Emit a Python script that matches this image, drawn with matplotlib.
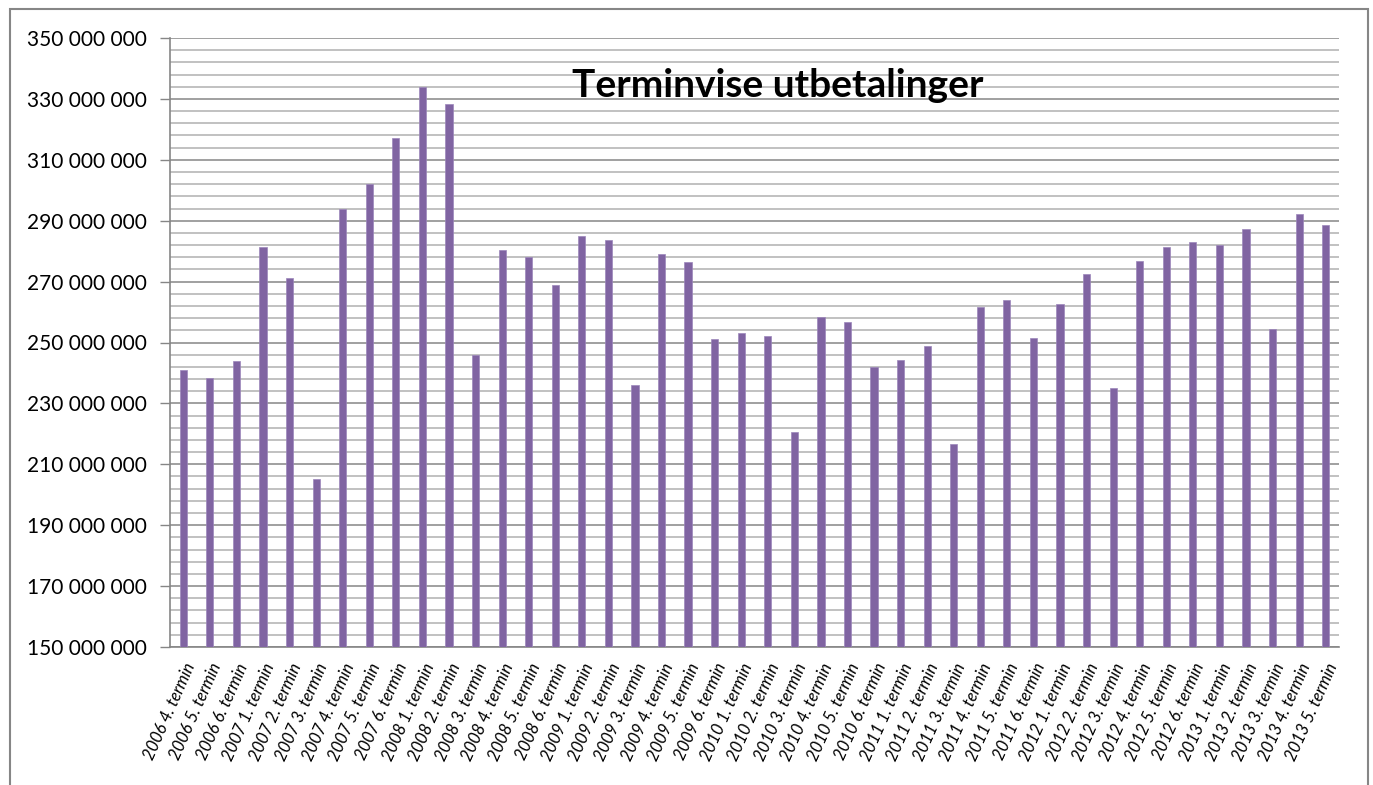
import matplotlib
matplotlib.use("Agg")
import matplotlib.pyplot as plt
import numpy as np
from matplotlib.ticker import FixedLocator, FuncFormatter
from matplotlib.patches import Rectangle

years = [2006]*3 + [2007]*6 + [2008]*6 + [2009]*6 + [2010]*6 + [2011]*6 + [2012]*6 + [2013]*5
terms = [4, 5, 6] + [1, 2, 3, 4, 5, 6]*6 + [1, 2, 3, 4, 5]
categories = [f"{y} {t}. termin" for y, t in zip(years, terms)]

values_mill = [
    240.9, 238.2, 243.9,
    281.2, 271.2, 205.3, 293.7, 302.0, 317.2,
    333.9, 328.4, 245.8, 280.5, 278.0, 268.9,
    285.1, 283.7, 235.9, 279.1, 276.4, 251.2,
    253.0, 252.1, 220.7, 258.5, 256.6, 242.0,
    244.3, 248.7, 216.6, 261.8, 264.1, 251.6,
    262.8, 272.5, 235.2, 276.9, 281.5, 282.9,
    281.9, 287.3, 254.5, 292.1, 288.6,
]
values = [v * 1e6 for v in values_mill]

y_min, y_max, y_major, y_minor = 150e6, 350e6, 20e6, 4e6
title = "Terminvise utbetalinger"

plt.rcParams['font.family'] = ['Lato', 'DejaVu Sans']

fig = plt.figure(figsize=(13.73, 7.85), dpi=100)
ax = fig.add_axes([170/1373, 1-647/785, (1339-170)/1373, (647-38)/785])

x = list(range(len(categories)))
ax.bar(x, values, width=0.27, color='#8064A2', edgecolor='#9c86bb', linewidth=0.5, zorder=3)

ax.set_ylim(y_min, y_max)
ax.set_xlim(-0.5, len(categories) - 0.5)
ax.yaxis.set_major_locator(FixedLocator(np.arange(y_min, y_max + 1, y_major)))
ax.yaxis.set_minor_locator(FixedLocator(np.arange(y_min, y_max + 1, y_minor)))
ax.yaxis.set_major_formatter(FuncFormatter(lambda v, p: f"{int(round(v)):,}".replace(",", " ")))

ax.grid(axis='y', which='major', color='#868686', linewidth=1.1, zorder=1)
ax.grid(axis='y', which='minor', color='#bcbcbc', linewidth=1.3, zorder=1)

ax.set_xticks(x)
ax.set_xticklabels(categories, rotation=66, ha='right', rotation_mode='anchor',
                   fontsize=12, fontstyle='italic')
ax.tick_params(axis='x', length=0, pad=10)
ax.tick_params(axis='y', which='major', length=7, width=1, color='#868686',
               direction='out', pad=10, labelsize=15)
ax.tick_params(axis='y', which='minor', length=0)

for s in ['top', 'right']:
    ax.spines[s].set_visible(False)
for s in ['left', 'bottom']:
    ax.spines[s].set_color('#868686')
    ax.spines[s].set_linewidth(1.2)

ax.text(0.52, 0.922, title, transform=ax.transAxes, ha='center', va='center',
        fontsize=28, fontweight='bold', zorder=5)

fig.patches.append(Rectangle((9.5/1373, -0.1), (1368-9.5)/1373, 1.1 - 9/785,
                             transform=fig.transFigure, fill=False,
                             edgecolor='#868686', linewidth=1.5))

fig.savefig("out.png", dpi=100)
